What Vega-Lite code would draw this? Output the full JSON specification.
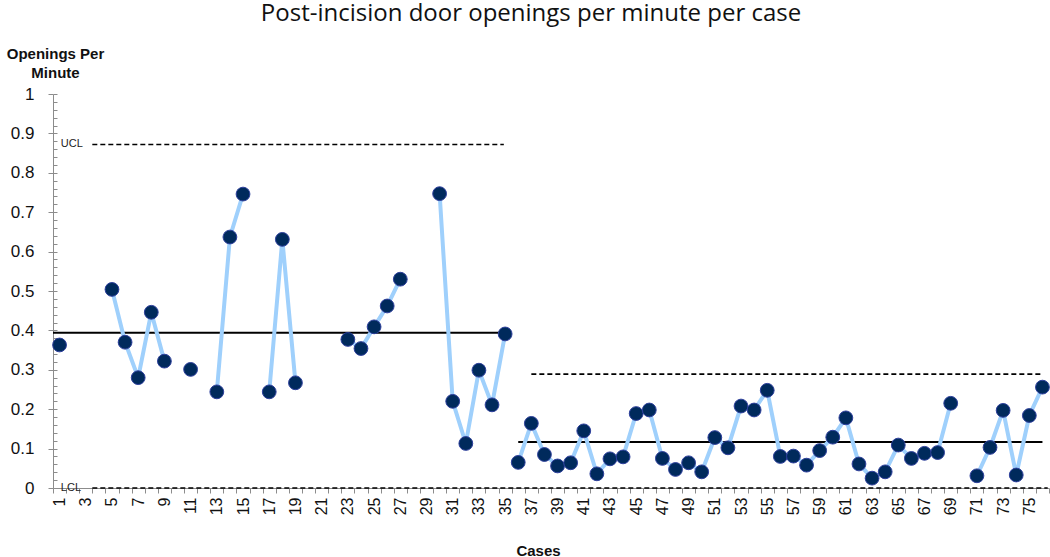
{
  "$schema": "https://vega.github.io/schema/vega-lite/v6.json",
  "autosize": "none",
  "width": 996,
  "height": 394,
  "padding": {"left": 53, "top": 94, "right": 1, "bottom": 69},
  "background": "white",
  "config": {"view": {"stroke": null}},
  "title": {
    "text": "Post-incision door openings per minute per case",
    "font": "Open Sans",
    "fontSize": 24,
    "fontWeight": "normal",
    "color": "#111111",
    "anchor": "middle",
    "dx": -20,
    "baseline": "alphabetic",
    "offset": 1
  },
  "datasets": {
    "cases": [
      {"case": 1, "value": 0.363, "phase": 1},
      {"case": 2, "value": null, "phase": 1},
      {"case": 3, "value": null, "phase": 1},
      {"case": 4, "value": null, "phase": 1},
      {"case": 5, "value": 0.504, "phase": 1},
      {"case": 6, "value": 0.370, "phase": 1},
      {"case": 7, "value": 0.280, "phase": 1},
      {"case": 8, "value": 0.446, "phase": 1},
      {"case": 9, "value": 0.322, "phase": 1},
      {"case": 10, "value": null, "phase": 1},
      {"case": 11, "value": 0.301, "phase": 1},
      {"case": 12, "value": null, "phase": 1},
      {"case": 13, "value": 0.244, "phase": 1},
      {"case": 14, "value": 0.637, "phase": 1},
      {"case": 15, "value": 0.746, "phase": 1},
      {"case": 16, "value": null, "phase": 1},
      {"case": 17, "value": 0.244, "phase": 1},
      {"case": 18, "value": 0.631, "phase": 1},
      {"case": 19, "value": 0.267, "phase": 1},
      {"case": 20, "value": null, "phase": 1},
      {"case": 21, "value": null, "phase": 1},
      {"case": 22, "value": null, "phase": 1},
      {"case": 23, "value": 0.377, "phase": 1},
      {"case": 24, "value": 0.354, "phase": 1},
      {"case": 25, "value": 0.409, "phase": 1},
      {"case": 26, "value": 0.462, "phase": 1},
      {"case": 27, "value": 0.530, "phase": 1},
      {"case": 28, "value": null, "phase": 1},
      {"case": 29, "value": null, "phase": 1},
      {"case": 30, "value": 0.747, "phase": 1},
      {"case": 31, "value": 0.220, "phase": 1},
      {"case": 32, "value": 0.113, "phase": 1},
      {"case": 33, "value": 0.299, "phase": 1},
      {"case": 34, "value": 0.211, "phase": 1},
      {"case": 35, "value": 0.391, "phase": 1},
      {"case": 36, "value": 0.065, "phase": 2},
      {"case": 37, "value": 0.164, "phase": 2},
      {"case": 38, "value": 0.085, "phase": 2},
      {"case": 39, "value": 0.056, "phase": 2},
      {"case": 40, "value": 0.064, "phase": 2},
      {"case": 41, "value": 0.145, "phase": 2},
      {"case": 42, "value": 0.036, "phase": 2},
      {"case": 43, "value": 0.074, "phase": 2},
      {"case": 44, "value": 0.079, "phase": 2},
      {"case": 45, "value": 0.189, "phase": 2},
      {"case": 46, "value": 0.198, "phase": 2},
      {"case": 47, "value": 0.075, "phase": 2},
      {"case": 48, "value": 0.047, "phase": 2},
      {"case": 49, "value": 0.064, "phase": 2},
      {"case": 50, "value": 0.041, "phase": 2},
      {"case": 51, "value": 0.128, "phase": 2},
      {"case": 52, "value": 0.102, "phase": 2},
      {"case": 53, "value": 0.208, "phase": 2},
      {"case": 54, "value": 0.198, "phase": 2},
      {"case": 55, "value": 0.248, "phase": 2},
      {"case": 56, "value": 0.080, "phase": 2},
      {"case": 57, "value": 0.081, "phase": 2},
      {"case": 58, "value": 0.058, "phase": 2},
      {"case": 59, "value": 0.095, "phase": 2},
      {"case": 60, "value": 0.129, "phase": 2},
      {"case": 61, "value": 0.178, "phase": 2},
      {"case": 62, "value": 0.061, "phase": 2},
      {"case": 63, "value": 0.025, "phase": 2},
      {"case": 64, "value": 0.041, "phase": 2},
      {"case": 65, "value": 0.109, "phase": 2},
      {"case": 66, "value": 0.075, "phase": 2},
      {"case": 67, "value": 0.088, "phase": 2},
      {"case": 68, "value": 0.090, "phase": 2},
      {"case": 69, "value": 0.215, "phase": 2},
      {"case": 70, "value": null, "phase": 2},
      {"case": 71, "value": 0.031, "phase": 2},
      {"case": 72, "value": 0.103, "phase": 2},
      {"case": 73, "value": 0.197, "phase": 2},
      {"case": 74, "value": 0.033, "phase": 2},
      {"case": 75, "value": 0.184, "phase": 2},
      {"case": 76, "value": 0.256, "phase": 2}
    ],
    "center": [
      {"start": 0.5, "end": 35, "level": 0.394},
      {"start": 36, "end": 76, "level": 0.117}
    ],
    "limits": [
      {"start": 3.5, "end": 34.9, "level": 0.872},
      {"start": 37, "end": 76, "level": 0.289},
      {"start": 3.5, "end": 76.4, "level": 0}
    ],
    "labels": [
      {"pos": 1.1, "level": 0.872, "label": "UCL"},
      {"pos": 1.1, "level": 0, "label": "LCL"}
    ]
  },
  "resolve": {"axis": {"x": "independent", "y": "independent"}},
  "layer": [
    {
      "data": {"name": "limits"},
      "mark": {"type": "rule", "color": "#000000", "strokeWidth": 1.6, "strokeDash": [5, 3]},
      "encoding": {
        "x": {"field": "start", "type": "quantitative",
              "scale": {"domain": [0.5, 76.5], "nice": false, "zero": false},
              "axis": {"orient": "bottom", "values": [0.5,1.5,2.5,3.5,4.5,5.5,6.5,7.5,8.5,9.5,10.5,11.5,12.5,13.5,14.5,15.5,16.5,17.5,18.5,19.5,20.5,21.5,22.5,23.5,24.5,25.5,26.5,27.5,28.5,29.5,30.5,31.5,32.5,33.5,34.5,35.5,36.5,37.5,38.5,39.5,40.5,41.5,42.5,43.5,44.5,45.5,46.5,47.5,48.5,49.5,50.5,51.5,52.5,53.5,54.5,55.5,56.5,57.5,58.5,59.5,60.5,61.5,62.5,63.5,64.5,65.5,66.5,67.5,68.5,69.5,70.5,71.5,72.5,73.5,74.5,75.5,76.5],
                       "labels": false, "title": null, "grid": false, "domain": true,
                       "domainColor": "#8c8c8c", "tickColor": "#8c8c8c", "tickSize": 5, "tickWidth": 1}},
        "x2": {"field": "end"},
        "y": {"field": "level", "type": "quantitative",
              "scale": {"domain": [0, 1], "nice": false},
              "axis": {"orient": "left", "values": [0,0.02,0.04,0.06,0.08,0.1,0.12,0.14,0.16,0.18,0.2,0.22,0.24,0.26,0.28,0.3,0.32,0.34,0.36,0.38,0.4,0.42,0.44,0.46,0.48,0.5,0.52,0.54,0.56,0.58,0.6,0.62,0.64,0.66,0.68,0.7,0.72,0.74,0.76,0.78,0.8,0.82,0.84,0.86,0.88,0.9,0.92,0.94,0.96,0.98,1],
                       "labels": false, "title": null, "grid": false, "domain": false,
                       "tickColor": "#8c8c8c", "tickSize": -4, "tickWidth": 1}}
      }
    },
    {
      "data": {"name": "center"},
      "mark": {"type": "rule", "color": "#000000", "strokeWidth": 2},
      "encoding": {
        "x": {"field": "start", "type": "quantitative", "axis": null},
        "x2": {"field": "end"},
        "y": {"field": "level", "type": "quantitative", "axis": null}
      }
    },
    {
      "data": {"name": "labels"},
      "mark": {"type": "text", "font": "Liberation Sans", "fontSize": 11, "align": "left", "baseline": "middle", "color": "#222222"},
      "encoding": {
        "x": {"field": "pos", "type": "quantitative", "axis": null},
        "y": {"field": "level", "type": "quantitative", "axis": null},
        "text": {"field": "label"}
      }
    },
    {
      "data": {"name": "cases"},
      "mark": {"type": "line", "color": "#9fd0fc", "strokeWidth": 4},
      "encoding": {
        "x": {"field": "case", "type": "quantitative", "axis": null},
        "y": {"field": "value", "type": "quantitative", "axis": null},
        "detail": {"field": "phase"}
      }
    },
    {
      "data": {"name": "cases"},
      "mark": {"type": "point", "filled": true, "size": 190, "fill": "#002a5c", "stroke": "#2d3f9c", "strokeWidth": 1, "opacity": 1},
      "encoding": {
        "x": {"field": "case", "type": "quantitative",
              "axis": {"orient": "bottom", "values": [1,3,5,7,9,11,13,15,17,19,21,23,25,27,29,31,33,35,37,39,41,43,45,47,49,51,53,55,57,59,61,63,65,67,69,71,73,75],
                       "labelAngle": -90, "labelFont": "Liberation Sans", "labelFontSize": 16, "labelColor": "#111111",
                       "labelOverlap": false, "ticks": false, "domain": false, "grid": false, "labelPadding": 9,
                       "title": "Cases", "titleFont": "Liberation Sans", "titleFontSize": 15, "titleFontWeight": "bold",
                       "titleColor": "#111111", "titleX": 485, "titleY": 67, "titleBaseline": "alphabetic", "titleAnchor": null, "titleAlign": "center"}},
        "y": {"field": "value", "type": "quantitative",
              "axis": {"orient": "left", "values": [0,0.1,0.2,0.3,0.4,0.5,0.6,0.7,0.8,0.9,1],
                       "labelExpr": "datum.value == 0 ? '0' : datum.value == 1 ? '1' : format(datum.value, '.1f')",
                       "labelFont": "Liberation Sans", "labelFontSize": 17, "labelColor": "#111111",
                       "tickColor": "#8c8c8c", "tickSize": 5, "domainColor": "#8c8c8c", "labelPadding": 14, "grid": false,
                       "title": ["Openings Per", "Minute"], "titleFont": "Liberation Sans", "titleFontSize": 15, "titleFontWeight": "bold",
                       "titleColor": "#111111", "titleAngle": 0, "titleX": 2, "titleY": -36, "titleAlign": "center",
                       "titleBaseline": "alphabetic", "titleLineHeight": 19, "titleAnchor": null}}
      }
    }
  ]
}
